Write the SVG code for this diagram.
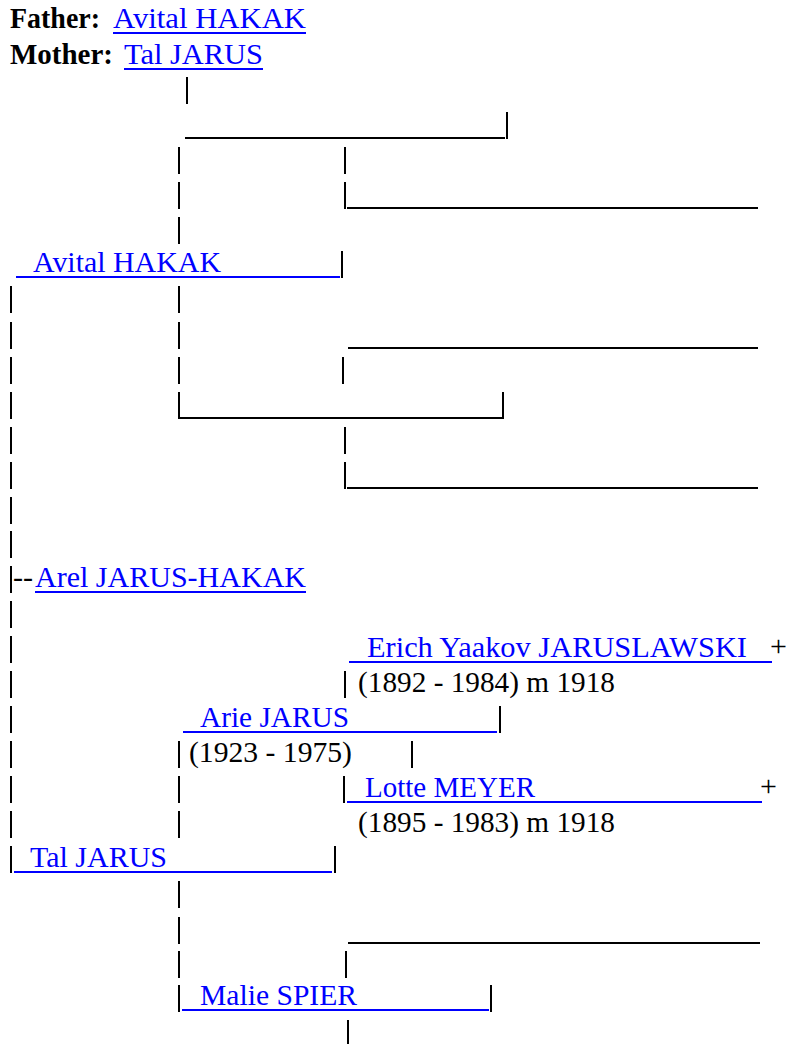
<svg xmlns="http://www.w3.org/2000/svg" width="786" height="1044" viewBox="0 0 786 1044">
<style>
  text { font-family: "Liberation Serif", "Times New Roman", serif; font-size: 30px; }
  .lbl { font-weight: bold; fill: #000; }
  .name { fill: #0000FF; }
  .info { fill: #000; }
  .ul { stroke: #0000FF; stroke-width: 2; fill: none; }
  .pipe { stroke: #000; stroke-width: 2; fill: none; }
  .hline { stroke: #000; stroke-width: 2; fill: none; }
</style>
<rect width="786" height="1044" fill="#fff"/>

<g id="header-father">
  <text class="lbl" x="10" y="28" textLength="90" lengthAdjust="spacingAndGlyphs">Father:</text>
  <text class="name" x="113" y="28" textLength="193" lengthAdjust="spacingAndGlyphs">Avital HAKAK</text>
  <line class="ul" x1="113" y1="33" x2="306" y2="33"/>
</g>
<g id="header-mother">
  <text class="lbl" x="10" y="64" textLength="103" lengthAdjust="spacingAndGlyphs">Mother:</text>
  <text class="name" x="124" y="64" textLength="139" lengthAdjust="spacingAndGlyphs">Tal JARUS</text>
  <line class="ul" x1="124" y1="69" x2="263" y2="69"/>
</g>

<g id="connectors">
  <path class="pipe" d="
    M187,77 V104
    M507,112 V139
    M179,147 V174 M345,147 V174
    M179,182 V209 M345,182 V209
    M179,217 V244
    M342,251 V278
    M11,286 V313 M179,286 V313
    M11,322 V349 M179,322 V349
    M11,357 V384 M179,357 V384 M343,357 V384
    M11,392 V419 M179,392 V419 M503,392 V419
    M11,427 V454 M345,427 V454
    M11,462 V489 M345,462 V489
    M11,497 V524
    M11,531 V558
    M11,566 V593
    M11,601 V628
    M11,636 V663
    M11,671 V698 M345,671 V698
    M11,706 V733 M500,706 V733
    M11,741 V768 M179,741 V768 M412,741 V768
    M11,776 V803 M179,776 V803 M344,776 V803
    M11,811 V838 M179,811 V838
    M11,846 V873 M335,846 V873
    M179,881 V908
    M179,917 V944
    M179,951 V978 M346,951 V978
    M179,985 V1012 M491,985 V1012
    M348,1020 V1047"/>
  <path class="hline" d="
    M185,138 H505
    M347,208 H758
    M348,348 H758
    M179,418 H502
    M347,488 H758
    M348,943 H760"/>
  <text class="info" x="13" y="587" textLength="20" lengthAdjust="spacingAndGlyphs">--</text>
</g>

<g id="p-avital">
  <text class="name" x="33" y="272" textLength="188" lengthAdjust="spacingAndGlyphs">Avital HAKAK</text>
  <line class="ul" x1="16" y1="277" x2="340" y2="277"/>
</g>
<g id="p-arel">
  <text class="name" x="35" y="587" textLength="271" lengthAdjust="spacingAndGlyphs">Arel JARUS-HAKAK</text>
  <line class="ul" x1="35" y1="592" x2="306" y2="592"/>
</g>
<g id="p-erich">
  <text class="name" x="367" y="657" textLength="380" lengthAdjust="spacingAndGlyphs">Erich Yaakov JARUSLAWSKI</text>
  <line class="ul" x1="349" y1="662" x2="772" y2="662"/>
  <text class="info" x="770" y="656">+</text>
  <text class="info" x="358" y="692" textLength="257" lengthAdjust="spacingAndGlyphs">(1892 - 1984) m 1918</text>
</g>
<g id="p-arie">
  <text class="name" x="200" y="727" textLength="149" lengthAdjust="spacingAndGlyphs">Arie JARUS</text>
  <line class="ul" x1="183" y1="732" x2="497" y2="732"/>
  <text class="info" x="189" y="762" textLength="163" lengthAdjust="spacingAndGlyphs">(1923 - 1975)</text>
</g>
<g id="p-lotte">
  <text class="name" x="365" y="797" textLength="170" lengthAdjust="spacingAndGlyphs">Lotte MEYER</text>
  <line class="ul" x1="347" y1="802" x2="762" y2="802"/>
  <text class="info" x="760" y="796">+</text>
  <text class="info" x="358" y="832" textLength="257" lengthAdjust="spacingAndGlyphs">(1895 - 1983) m 1918</text>
</g>
<g id="p-tal">
  <text class="name" x="30" y="867" textLength="137" lengthAdjust="spacingAndGlyphs">Tal JARUS</text>
  <line class="ul" x1="14" y1="872" x2="332" y2="872"/>
</g>
<g id="p-malie">
  <text class="name" x="200" y="1005" textLength="157" lengthAdjust="spacingAndGlyphs">Malie SPIER</text>
  <line class="ul" x1="182" y1="1010" x2="489" y2="1010"/>
</g>
</svg>
